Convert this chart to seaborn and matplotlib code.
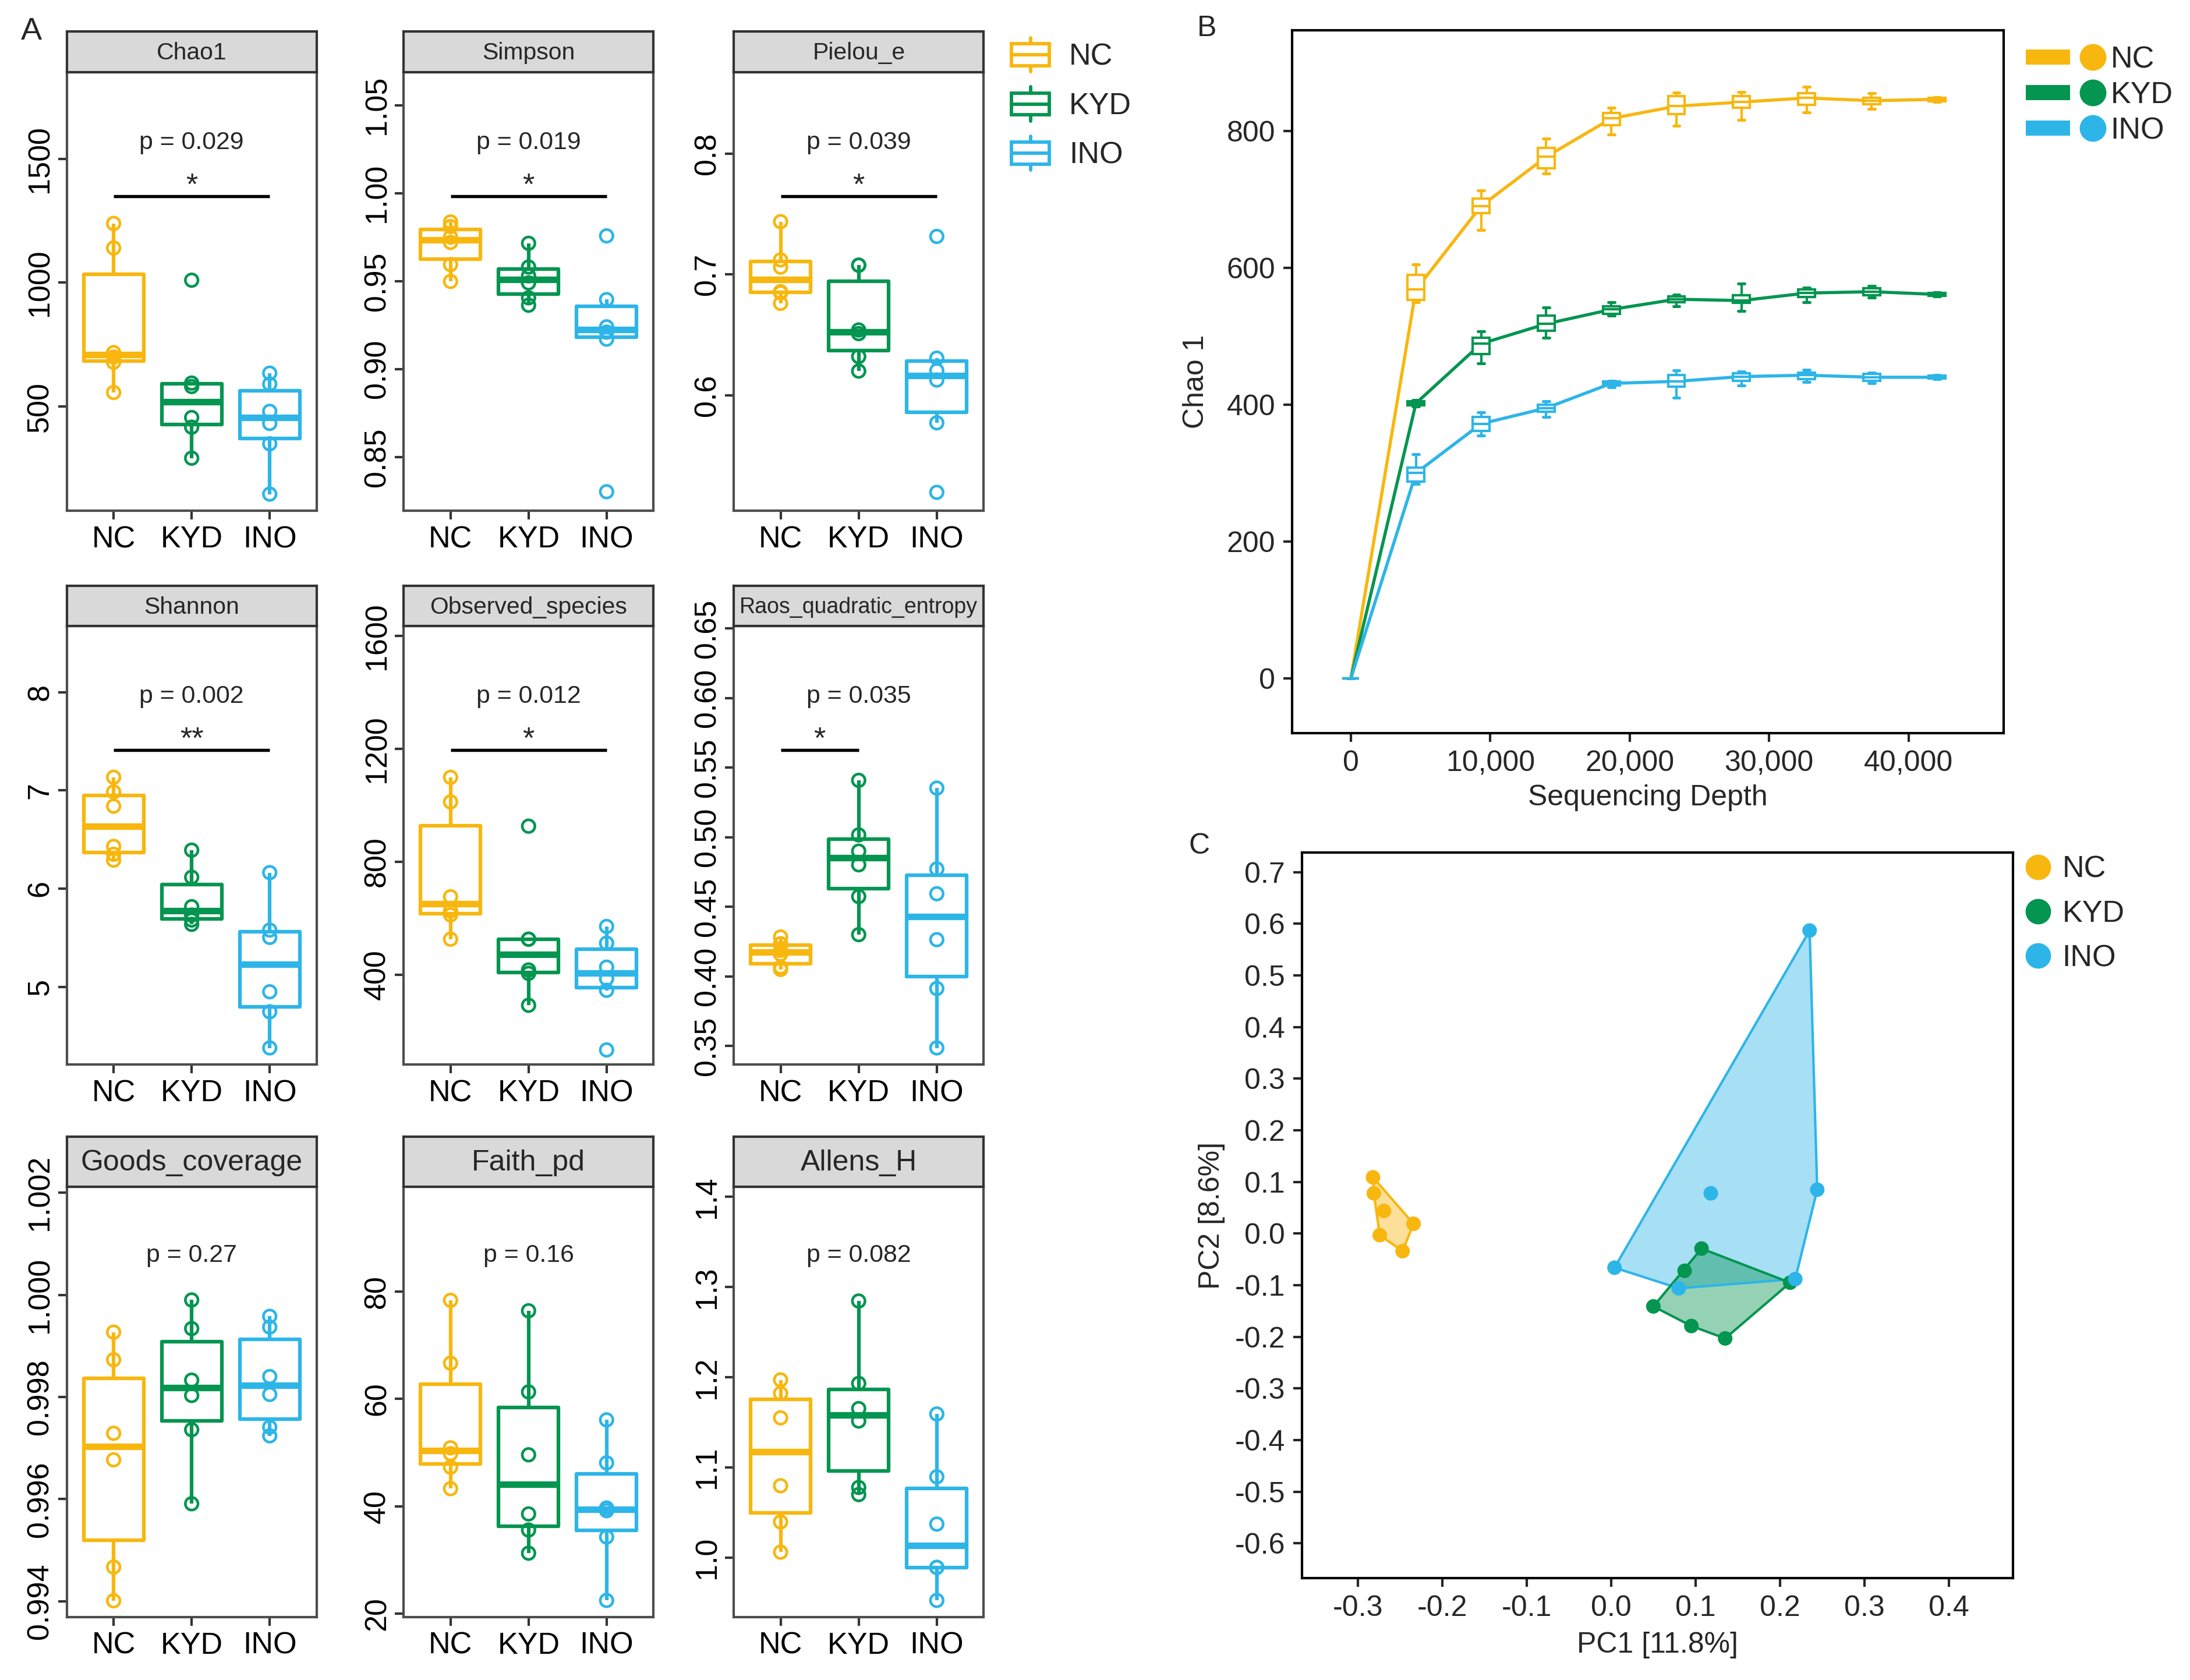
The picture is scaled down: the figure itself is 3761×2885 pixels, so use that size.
import matplotlib
matplotlib.use("Agg")
import matplotlib.pyplot as plt
import numpy as np
import pandas as pd
import seaborn as sns
from matplotlib.legend_handler import HandlerBase
from matplotlib.lines import Line2D
from matplotlib.patches import Rectangle

# ---------------------------------------------------------------- data
GROUPS = ["NC", "KYD", "INO"]
COLORS = ["#F8B70F", "#049550", "#2DB5E8"]

# panel A: alpha diversity indices, six samples per group
CHAO1 = {"NC": [557, 679, 700, 718, 1140, 1239],
         "KYD": [292, 417, 456, 581, 595, 1010],
         "INO": [147, 350, 432, 481, 591, 635]}
SIMPSON = {"NC": [0.9498, 0.9594, 0.972, 0.975, 0.981, 0.9836],
           "KYD": [0.9363, 0.9405, 0.949, 0.953, 0.958, 0.9715],
           "INO": [0.8303, 0.917, 0.921, 0.924, 0.9395, 0.9757]}
PIELOU = {"NC": [0.676, 0.6848, 0.6857, 0.706, 0.712, 0.7436],
          "KYD": [0.620, 0.632, 0.651, 0.654, 0.7076, 0.7076],
          "INO": [0.5197, 0.5772, 0.6126, 0.6204, 0.6307, 0.7314]}
SHANNON = {"NC": [6.29, 6.35, 6.43, 6.84, 6.986, 7.135],
           "KYD": [5.636, 5.68, 5.73, 5.816, 6.116, 6.392],
           "INO": [4.377, 4.745, 4.949, 5.503, 5.578, 6.163]}
OBSERVED = {"NC": [526, 612, 626, 676, 1012, 1099],
            "KYD": [292, 405, 417, 526, 526, 926],
            "INO": [134, 345, 386, 427, 512, 571]}
RAOS = {"NC": [0.405, 0.4067, 0.416, 0.4187, 0.4235, 0.4283],
        "KYD": [0.430, 0.4574, 0.4802, 0.490, 0.5017, 0.5409],
        "INO": [0.3486, 0.3913, 0.4264, 0.4594, 0.4772, 0.5353]}
GOODS = {"NC": [0.99401, 0.99467, 0.99677, 0.99729, 0.99873, 0.99927],
         "KYD": [0.99591, 0.99736, 0.99803, 0.99833, 0.99934, 0.99990],
         "INO": [0.99724, 0.99741, 0.99805, 0.99840, 0.99937, 0.99958]}
FAITH = {"NC": [43.3, 47.3, 49.8, 50.9, 66.65, 78.35],
         "KYD": [31.3, 35.6, 38.6, 49.6, 61.3, 76.4],
         "INO": [22.5, 34.3, 39.2, 39.7, 48.1, 56.1]}
ALLENS = {"NC": [1.0063, 1.0398, 1.0799, 1.1551, 1.1823, 1.1972],
          "KYD": [1.0701, 1.078, 1.1516, 1.1654, 1.1933, 1.2846],
          "INO": [0.9528, 0.9894, 0.9894, 1.0374, 1.0898, 1.1594]}

METRICS = ["Chao1", "Simpson", "Pielou_e", "Shannon", "Observed_species",
           "Raos_quadratic_entropy", "Goods_coverage", "Faith_pd", "Allens_H"]
METRIC_DATA = [CHAO1, SIMPSON, PIELOU, SHANNON, OBSERVED, RAOS, GOODS, FAITH, ALLENS]
P_TEXT = ["p = 0.029", "p = 0.019", "p = 0.039", "p = 0.002", "p = 0.012",
          "p = 0.035", "p = 0.27", "p = 0.16", "p = 0.082"]
SIG_MARK = ["*", "*", "*", "**", "*", "*", None, None, None]
SIG_PAIR = [(0, 2), (0, 2), (0, 2), (0, 2), (0, 2), (0, 1), None, None, None]
Y_TICKS = [[500, 1000, 1500], [0.85, 0.90, 0.95, 1.00, 1.05], [0.6, 0.7, 0.8],
           [5, 6, 7, 8], [400, 800, 1200, 1600],
           [0.35, 0.40, 0.45, 0.50, 0.55, 0.60, 0.65],
           [0.994, 0.996, 0.998, 1.000, 1.002], [20, 40, 60, 80],
           [1.0, 1.1, 1.2, 1.3, 1.4]]
Y_DEC = [0, 2, 1, 0, 0, 2, 3, 0, 1]
Y_LIMS = [(80, 1849), (0.8195, 1.0687), (0.5045, 0.8672), (4.207, 8.674), (82, 1634),
          (0.3366, 0.6517), (0.99369, 1.00212), (19.4, 99.5), (0.9343, 1.4114)]

# panel B: rarefaction curves (box summary per depth)
DEPTHS = [0, 4670, 9340, 14010, 18680, 23350, 28020, 32690, 37360, 42030]
NC_MED = [0, 568, 690, 762, 818, 836, 842, 848, 844, 846]
NC_Q1 = [0, 553, 680, 745, 808, 824, 834, 838, 839, 843]
NC_Q3 = [0, 590, 701, 775, 826, 851, 851, 855, 848, 848]
NC_LO = [0, 550, 655, 738, 795, 807, 816, 827, 832, 842]
NC_HI = [0, 605, 713, 789, 834, 856, 857, 864, 855, 849]
KYD_MED = [0, 402, 489, 518, 539, 554, 552, 563, 565, 561]
KYD_Q1 = [0, 399, 474, 508, 533, 550, 549, 557, 560, 559]
KYD_Q3 = [0, 405, 498, 530, 544, 558, 560, 568, 570, 563]
KYD_LO = [0, 397, 460, 498, 530, 544, 537, 550, 556, 558]
KYD_HI = [0, 407, 507, 542, 550, 561, 577, 571, 573, 564]
INO_MED = [0, 300, 372, 395, 431, 434, 441, 443, 440, 440]
INO_Q1 = [0, 288, 362, 390, 428, 426, 435, 437, 435, 438]
INO_Q3 = [0, 308, 382, 400, 434, 443, 446, 447, 445, 442]
INO_LO = [0, 284, 355, 382, 425, 410, 428, 433, 431, 437]
INO_HI = [0, 328, 389, 405, 435, 450, 448, 451, 447, 443]

# panel C: PCoA
NC_PC1 = [-0.282, -0.281, -0.269, -0.234, -0.274, -0.247]
NC_PC2 = [0.109, 0.078, 0.044, 0.019, -0.003, -0.034]
KYD_PC1 = [0.107, 0.087, 0.212, 0.050, 0.095, 0.135]
KYD_PC2 = [-0.029, -0.072, -0.095, -0.141, -0.179, -0.203]
INO_PC1 = [0.235, 0.118, 0.244, 0.004, 0.080, 0.218]
INO_PC2 = [0.587, 0.078, 0.085, -0.066, -0.106, -0.088]

# ---------------------------------------------------------------- style
sns.set_style("ticks")
plt.rcParams["font.family"] = ["Liberation Sans", "DejaVu Sans"]
plt.rcParams["axes.unicode_minus"] = False
PAL = dict(zip(GROUPS, COLORS))

W, H = 1568.0, 1202.0


def rect(l, t, r, b):
    return [l / W, 1 - b / H, (r - l) / W, (b - t) / H]


class BoxIcon:
    def __init__(self, color):
        self.color = color


class HandlerBoxIcon(HandlerBase):
    def create_artists(self, legend, orig, xd, yd, width, height, fontsize, trans):
        x0, y0, c = -xd, -yd, orig.color
        kw = dict(color=c, lw=1.4, transform=trans)
        box = Rectangle((x0, y0 + 0.18 * height), width, 0.64 * height,
                        facecolor="none", edgecolor=c, lw=1.4, transform=trans)
        med = Line2D([x0, x0 + width], [y0 + 0.5 * height] * 2, **kw)
        wlo = Line2D([x0 + width / 2] * 2, [y0, y0 + 0.18 * height], **kw)
        whi = Line2D([x0 + width / 2] * 2, [y0 + 0.82 * height, y0 + height], **kw)
        return [box, med, wlo, whi]


class BarDot:
    def __init__(self, color):
        self.color = color


class HandlerBarDot(HandlerBase):
    def create_artists(self, legend, orig, xd, yd, width, height, fontsize, trans):
        x0, y0, c = -xd, -yd, orig.color
        bar = Rectangle((x0, y0 + 0.2 * height), 0.56 * width, 0.6 * height,
                        facecolor=c, edgecolor="none", transform=trans)
        dot = Line2D([x0 + 0.85 * width], [y0 + 0.5 * height], marker="o",
                     markersize=fontsize * 0.8, color=c, linestyle="none", transform=trans)
        return [bar, dot]


def convex_hull(xs, ys):
    pts = sorted(set(zip(xs, ys)))

    def cross(o, a, b):
        return (a[0] - o[0]) * (b[1] - o[1]) - (a[1] - o[1]) * (b[0] - o[0])

    lower, upper = [], []
    for p in pts:
        while len(lower) >= 2 and cross(lower[-2], lower[-1], p) <= 0:
            lower.pop()
        lower.append(p)
    for p in reversed(pts):
        while len(upper) >= 2 and cross(upper[-2], upper[-1], p) <= 0:
            upper.pop()
        upper.append(p)
    hull = lower[:-1] + upper[:-1]
    return [p[0] for p in hull], [p[1] for p in hull]


fig = plt.figure(figsize=(3762 / 300, 2885 / 300), dpi=300)

# ---------------------------------------------------------------- panel A
cols = [(47.8, 226.6), (289.0, 467.7), (525.2, 704.1)]
rows = [(51.7, 365.4, 29.0), (448.0, 761.7, 29.0), (849.0, 1157.0, 35.7)]

for i, name in enumerate(METRICS):
    r, c = divmod(i, 3)
    top, bot, strip_h = rows[r]
    ax = fig.add_axes(rect(cols[c][0], top, cols[c][1], bot))
    data = METRIC_DATA[i]
    df = pd.DataFrame([(g, v) for g in GROUPS for v in data[g]], columns=["group", "value"])

    sns.boxplot(data=df, x="group", y="value", hue="group", order=GROUPS,
                hue_order=GROUPS, palette=PAL, fill=False, width=0.77, linewidth=1.5,
                showfliers=False, showcaps=False, medianprops={"linewidth": 2.7},
                legend=False, ax=ax)
    sns.stripplot(data=df, x="group", y="value", hue="group", order=GROUPS,
                  hue_order=GROUPS, palette=PAL, jitter=False, size=5.2,
                  linewidth=1.1, legend=False, ax=ax)
    for coll in ax.collections:
        fc = coll.get_facecolor()
        coll.set_edgecolor(fc)
        coll.set_facecolor("none")

    ax.set_xlim(-0.6, 2.6)
    ax.set_ylim(*Y_LIMS[i])
    d = Y_DEC[i]
    ax.set_yticks(Y_TICKS[i], labels=[f"{t:.{d}f}" for t in Y_TICKS[i]])
    ax.set_xlabel("")
    ax.set_ylabel("")
    ax.tick_params(axis="both", labelsize=12.5, length=3.5, width=1.0, color="#333333",
                   labelcolor="black")
    ax.tick_params(axis="x", pad=2.5)
    ax.tick_params(axis="y", labelrotation=90, pad=1.5)
    for lbl in ax.get_yticklabels():
        lbl.set_va("center")
    for sp in ax.spines.values():
        sp.set_color("#4d4d4d")
        sp.set_linewidth(1.0)

    sax = ax.inset_axes([0, 1, 1, strip_h / (bot - top)])
    sax.set_facecolor("#D9D9D9")
    sax.set_xticks([])
    sax.set_yticks([])
    for sp in sax.spines.values():
        sp.set_color("#333333")
        sp.set_linewidth(1.0)
    fs = 12 if r == 2 else (9 if name.startswith("Raos") else 9.8)
    sax.text(0.5, 0.47, name, ha="center", va="center", fontsize=fs,
             transform=sax.transAxes)

    ax.text(0.5, 0.84, P_TEXT[i], ha="center", va="center",
            fontsize=10.3, transform=ax.transAxes)
    if SIG_PAIR[i] is not None:
        a, b = SIG_PAIR[i]
        tr = ax.get_xaxis_transform()
        ax.plot([a, b], [0.717, 0.717], color="black", lw=1.3, transform=tr,
                solid_capstyle="butt")
        ax.text((a + b) / 2, 0.722, SIG_MARK[i], ha="center", va="baseline",
                fontsize=12.5, transform=tr)

fig.legend(handles=[BoxIcon(col) for col in COLORS], labels=GROUPS,
           handler_map={BoxIcon: HandlerBoxIcon()}, loc="upper left",
           bbox_to_anchor=(724 / W, 1 - 27 / H), frameon=False, fontsize=12.5,
           handlelength=1.25, handleheight=1.35, handletextpad=0.65,
           labelspacing=0.5, borderpad=0, borderaxespad=0)

# ---------------------------------------------------------------- panel B
axB = fig.add_axes(rect(925, 21.6, 1434, 524.6))
stats_src = {"NC": (NC_MED, NC_Q1, NC_Q3, NC_LO, NC_HI),
             "KYD": (KYD_MED, KYD_Q1, KYD_Q3, KYD_LO, KYD_HI),
             "INO": (INO_MED, INO_Q1, INO_Q3, INO_LO, INO_HI)}
dfB = pd.DataFrame([(g, dp, m) for g in GROUPS
                    for dp, m in zip(DEPTHS, stats_src[g][0])],
                   columns=["group", "depth", "chao"])
sns.lineplot(data=dfB, x="depth", y="chao", hue="group", hue_order=GROUPS,
             palette=PAL, linewidth=1.3, errorbar=None, legend=False, ax=axB, zorder=1)
for g in GROUPS:
    med, q1, q3, lo, hi = stats_src[g]
    st = [dict(med=m, q1=a, q3=b, whislo=l, whishi=h, fliers=[])
          for m, a, b, l, h in zip(med, q1, q3, lo, hi)]
    col = PAL[g]
    axB.bxp(st, positions=DEPTHS, widths=1200, capwidths=450, patch_artist=True,
            showfliers=False, manage_ticks=False, zorder=2,
            boxprops=dict(facecolor="white", edgecolor=col, linewidth=1.0),
            medianprops=dict(color=col, linewidth=1.0),
            whiskerprops=dict(color=col, linewidth=1.0),
            capprops=dict(color=col, linewidth=1.2))
axB.set_xlim(-4200, 46800)
axB.set_ylim(-80, 947)
axB.set_xticks([0, 10000, 20000, 30000, 40000],
               labels=["0", "10,000", "20,000", "30,000", "40,000"])
axB.set_yticks([0, 200, 400, 600, 800])
axB.set_xlabel("Sequencing Depth", fontsize=12, labelpad=3)
axB.set_ylabel("Chao 1", fontsize=12, labelpad=7)
axB.tick_params(labelsize=12, length=3.5, width=1.0)
for sp in axB.spines.values():
    sp.set_color("black")
    sp.set_linewidth(1.0)

fig.legend(handles=[BarDot(col) for col in COLORS], labels=GROUPS,
           handler_map={BarDot: HandlerBarDot()}, loc="upper left",
           bbox_to_anchor=(1450 / W, 1 - 32 / H), frameon=False, fontsize=12.5,
           handlelength=2.6, handleheight=0.9, handletextpad=0.2,
           labelspacing=0.2, borderpad=0, borderaxespad=0)

# ---------------------------------------------------------------- panel C
axC = fig.add_axes(rect(932, 610, 1441, 1129))
pcs = {"NC": (NC_PC1, NC_PC2), "KYD": (KYD_PC1, KYD_PC2), "INO": (INO_PC1, INO_PC2)}
for g in ["NC", "INO", "KYD"]:
    hx, hy = convex_hull(*pcs[g])
    axC.fill(hx, hy, facecolor=PAL[g], alpha=0.42, edgecolor="none", zorder=1)
for g in ["NC", "INO", "KYD"]:
    hx, hy = convex_hull(*pcs[g])
    axC.plot(hx + hx[:1], hy + hy[:1], color=PAL[g], lw=1.0, zorder=2)
dfC = pd.DataFrame([(g, x, y) for g in GROUPS for x, y in zip(*pcs[g])],
                   columns=["group", "pc1", "pc2"])
sns.scatterplot(data=dfC, x="pc1", y="pc2", hue="group", hue_order=GROUPS,
                palette=PAL, s=36, edgecolor="none", legend=False, ax=axC, zorder=3)
axC.set_xlim(-0.366, 0.476)
axC.set_ylim(-0.667, 0.738)
xt = [-0.3, -0.2, -0.1, 0.0, 0.1, 0.2, 0.3, 0.4]
yt = [-0.6, -0.5, -0.4, -0.3, -0.2, -0.1, 0.0, 0.1, 0.2, 0.3, 0.4, 0.5, 0.6, 0.7]
axC.set_xticks(xt, labels=[f"{v:.1f}" for v in xt])
axC.set_yticks(yt, labels=[f"{v:.1f}" for v in yt])
axC.set_xlabel("PC1 [11.8%]", fontsize=12, labelpad=4)
axC.set_ylabel("PC2 [8.6%]", fontsize=12, labelpad=4)
axC.tick_params(labelsize=12, length=3.5, width=1.0)
for sp in axC.spines.values():
    sp.set_color("black")
    sp.set_linewidth(1.0)

fig.legend(handles=[Line2D([], [], marker="o", color=col, linestyle="none",
                           markersize=9.5) for col in COLORS],
           labels=GROUPS, loc="upper left", bbox_to_anchor=(1450 / W, 1 - 612 / H),
           frameon=False, fontsize=12.5, handlelength=0.8, handletextpad=0.4,
           labelspacing=0.52, borderpad=0, borderaxespad=0)

# panel letters
fig.text(15 / W, 1 - 12 / H, "A", fontsize=13, va="top")
fig.text(857 / W, 1 - 11 / H, "B", fontsize=12, va="top")
fig.text(851 / W, 1 - 596 / H, "C", fontsize=12, va="top")

fig.savefig("out.png", dpi=300)
